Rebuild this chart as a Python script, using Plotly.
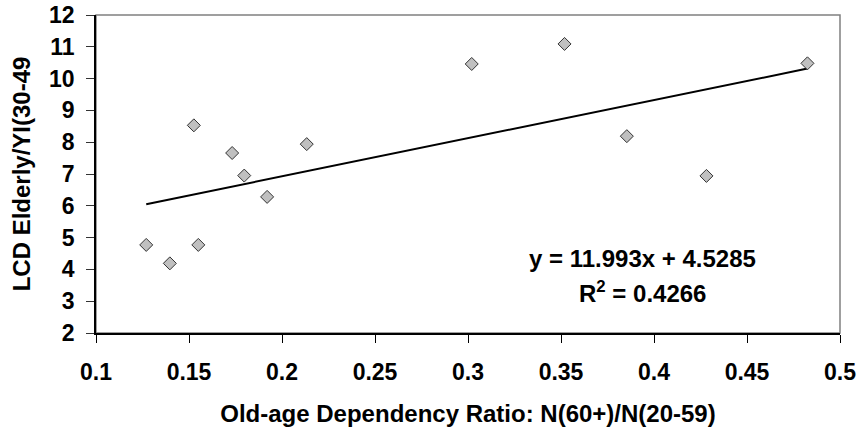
import plotly.graph_objects as go

# Data
ratio = [0.127, 0.1397, 0.155, 0.1526, 0.1732, 0.1797, 0.192, 0.2133,
         0.302, 0.3519, 0.3854, 0.4282, 0.4825]
lcd = [4.77, 4.19, 4.77, 8.53, 7.66, 6.95, 6.28, 7.94,
       10.46, 11.09, 8.19, 6.94, 10.48]
slope = 11.993
intercept = 4.5285
r_squared = 0.4266
x_ticks = [0.1, 0.15, 0.2, 0.25, 0.3, 0.35, 0.4, 0.45, 0.5]
x_tick_labels = ["0.1", "0.15", "0.2", "0.25", "0.3", "0.35", "0.4", "0.45", "0.5"]
y_ticks = [2, 3, 4, 5, 6, 7, 8, 9, 10, 11, 12]
y_tick_labels = [str(v) for v in y_ticks]

FONT = "Liberation Sans, Arial, sans-serif"

trend_x = [min(ratio), max(ratio)]
trend_y = [slope * v + intercept for v in trend_x]

fig = go.Figure()
fig.add_trace(go.Scatter(
    x=trend_x, y=trend_y, mode="lines",
    line=dict(color="black", width=2), showlegend=False, hoverinfo="skip"))
fig.add_trace(go.Scatter(
    x=ratio, y=lcd, mode="markers",
    marker=dict(symbol="diamond", size=10, color="#c0c0c0",
                line=dict(color="#333333", width=1)),
    showlegend=False))

fig.add_annotation(x=0.3938, y=4.33, xref="x", yref="y",
                   text=f"<b>y = {slope}x + {intercept}</b>", showarrow=False,
                   font=dict(family=FONT, size=24, color="black"))
fig.add_annotation(x=0.3938, y=3.29, xref="x", yref="y",
                   text=f"<b>R<sup>2</sup> = {r_squared}</b>", showarrow=False,
                   font=dict(family=FONT, size=24, color="black"))

# plot-area border (top/right grey)
fig.add_shape(type="rect", xref="paper", yref="paper", x0=0, y0=0, x1=1, y1=1,
              line=dict(color="#808080", width=1.5), layer="below")

fig.update_layout(
    width=862, height=428,
    margin=dict(l=96, r=22, t=15, b=95, autoexpand=False),
    paper_bgcolor="white", plot_bgcolor="white",
    font=dict(family=FONT, size=22, color="black"),
    xaxis=dict(
        range=[0.1, 0.5], tickvals=x_ticks,
        ticktext=[f"<b>{t}</b>" for t in x_tick_labels],
        showgrid=False, zeroline=False, automargin=False,
        showline=True, linecolor="black", linewidth=2,
        ticks="outside", ticklen=8, tickwidth=1, tickcolor="black",
        tickfont=dict(family=FONT, size=23, color="black"),
        ticklabelstandoff=9,
        title=dict(text="<b>Old-age Dependency Ratio: N(60+)/N(20-59)</b>",
                   font=dict(family=FONT, size=24, color="black"), standoff=22),
    ),
    yaxis=dict(
        range=[2, 12], tickvals=y_ticks,
        ticktext=[f"<b>{t}</b>" for t in y_tick_labels],
        showgrid=False, zeroline=False, automargin=False,
        showline=True, linecolor="black", linewidth=1.5,
        ticks="outside", ticklen=8, tickwidth=1, tickcolor="#333333",
        tickfont=dict(family=FONT, size=23, color="black"),
        ticklabelstandoff=7,
        title=dict(text="<b>LCD Elderly/YI(30-49</b>",
                   font=dict(family=FONT, size=24, color="black"), standoff=12),
    ),
)

fig.write_html("out.html", config={"displayModeBar": False},
               post_script="document.body.style.margin='0';")
